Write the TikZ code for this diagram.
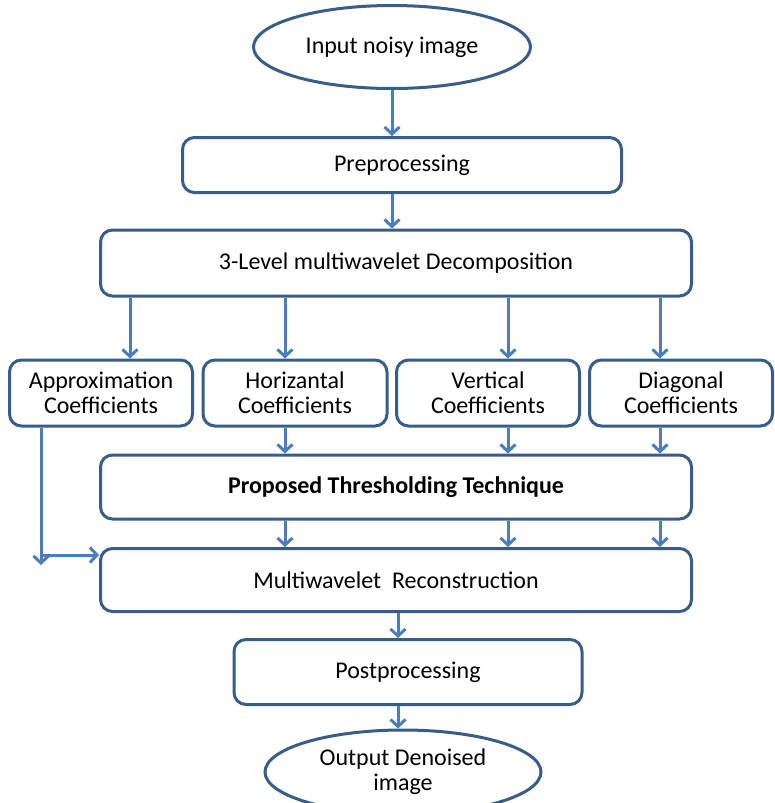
\documentclass[tikz,border=0pt]{standalone}
\usepackage{fontspec}
\setmainfont{Carlito}
\usetikzlibrary{arrows.meta,shapes.geometric}
\definecolor{boxblue}{HTML}{385D8A}
\definecolor{arrblue}{HTML}{4A7EBB}
\tikzset{
  stagebox/.style={draw=boxblue, line width=3pt, rounded corners=12pt, fill=white,
    align=center, inner sep=0pt},
  oval/.style={ellipse, draw=boxblue, line width=3pt, fill=white, align=center, inner sep=0pt},
  arr/.style={draw=arrblue, line width=3pt, -{Straight Barb[length=7pt,width=15pt]}}
}
\begin{document}
\begin{tikzpicture}[x=1pt, y=-1pt, font=\fontsize{24}{25}\selectfont]
  \useasboundingbox (0,0) rectangle (775,803);
  \clip (0,0) rectangle (775,803);

  % Define stages
  \node[oval, minimum width=277pt, minimum height=83pt] (input) at (392,47) {Input noisy image};
  \node[stagebox, minimum width=439pt, minimum height=55pt] (pre) at (402,165) {Preprocessing};
  \node[stagebox, minimum width=591pt, minimum height=66pt] (decomp) at (396,263) {3-Level multiwavelet Decomposition};

  % Coefficient boxes
  \node[stagebox, minimum width=183pt, minimum height=66pt] (approx) at (101,393) {Approximation\\Coefficients};
  \node[stagebox, minimum width=184pt, minimum height=66pt] (horiz) at (295,393) {Horizantal\\Coefficients};
  \node[stagebox, minimum width=183pt, minimum height=66pt] (vert) at (488,393) {Vertical\\Coefficients};
  \node[stagebox, minimum width=183pt, minimum height=66pt] (diag) at (681,393) {Diagonal\\Coefficients};

  \node[stagebox, minimum width=591pt, minimum height=64pt, font=\fontsize{24}{25}\selectfont\bfseries] (thresh) at (396,487) {Proposed Thresholding Technique};
  \node[stagebox, minimum width=591pt, minimum height=63pt] (recon) at (396,580) {Multiwavelet\ \ Reconstruction};
  \node[stagebox, minimum width=348pt, minimum height=65pt] (post) at (408,672) {Postprocessing};
  \node[oval, minimum width=276pt, minimum height=84pt] (output) at (403,772) {Output Denoised\\image};

  \coordinate (bend) at (41,565);

  % Draw connectors
  \draw[arr] (input) -- (input |- pre.north);
  \draw[arr] (pre.south -| input) -- (input |- decomp.north);
  \draw[arr] (decomp.south -| 130,0) -- (approx.north -| 130,0);
  \draw[arr] (decomp.south -| 285,0) -- (horiz.north -| 285,0);
  \draw[arr] (decomp.south -| 508,0) -- (vert.north -| 508,0);
  \draw[arr] (decomp.south -| 660,0) -- (diag.north -| 660,0);
  \draw[arr] (horiz.south -| 285,0) -- (thresh.north -| 285,0);
  \draw[arr] (vert.south -| 508,0) -- (thresh.north -| 508,0);
  \draw[arr] (diag.south -| 660,0) -- (thresh.north -| 660,0);
  \draw[arr] (thresh.south -| 285,0) -- (recon.north -| 285,0);
  \draw[arr] (thresh.south -| 508,0) -- (recon.north -| 508,0);
  \draw[arr] (thresh.south -| 660,0) -- (recon.north -| 660,0);
  \draw[arr] (approx.south -| bend) -- (bend);
  \draw[arr] (41,555) -- (recon.west |- 0,555);
  \draw[arr] (recon.south -| 398,0) -- (post.north -| 398,0);
  \draw[arr] (post.south -| 398,0) -- (output.north -| 398,0);
\end{tikzpicture}
\end{document}
